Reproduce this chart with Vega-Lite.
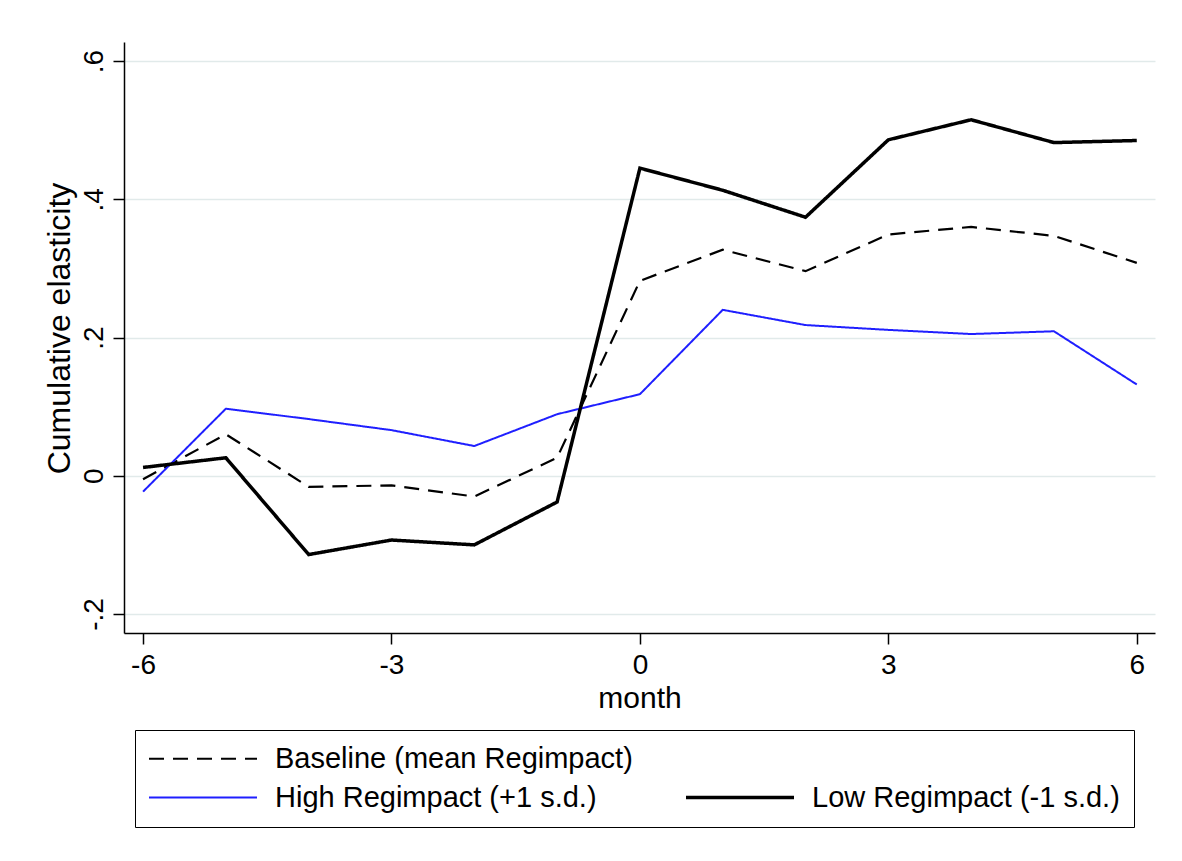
{
  "$schema": "https://vega.github.io/schema/vega-lite/v6.json",
  "width": 1031,
  "height": 591,
  "autosize": {"type": "none"},
  "padding": {"left": 124, "top": 42, "right": 27, "bottom": 228},
  "background": "white",
  "config": {
    "view": {"stroke": null},
    "font": "Liberation Sans",
    "axis": {"labelFont": "Liberation Sans", "titleFont": "Liberation Sans", "labelColor": "#000", "titleColor": "#000", "titleFontWeight": "normal"},
    "legend": {"labelFont": "Liberation Sans"}
  },
  "data": {
    "values": [
      {"month": -6, "series": "Baseline (mean Regimpact)", "value": -0.005},
      {"month": -5, "series": "Baseline (mean Regimpact)", "value": 0.060},
      {"month": -4, "series": "Baseline (mean Regimpact)", "value": -0.016},
      {"month": -3, "series": "Baseline (mean Regimpact)", "value": -0.014},
      {"month": -2, "series": "Baseline (mean Regimpact)", "value": -0.030},
      {"month": -1, "series": "Baseline (mean Regimpact)", "value": 0.026},
      {"month": 0, "series": "Baseline (mean Regimpact)", "value": 0.282},
      {"month": 1, "series": "Baseline (mean Regimpact)", "value": 0.327},
      {"month": 2, "series": "Baseline (mean Regimpact)", "value": 0.296},
      {"month": 3, "series": "Baseline (mean Regimpact)", "value": 0.349},
      {"month": 4, "series": "Baseline (mean Regimpact)", "value": 0.360},
      {"month": 5, "series": "Baseline (mean Regimpact)", "value": 0.347},
      {"month": 6, "series": "Baseline (mean Regimpact)", "value": 0.308},
      {"month": -6, "series": "High Regimpact (+1 s.d.)", "value": -0.023},
      {"month": -5, "series": "High Regimpact (+1 s.d.)", "value": 0.097},
      {"month": -4, "series": "High Regimpact (+1 s.d.)", "value": 0.082},
      {"month": -3, "series": "High Regimpact (+1 s.d.)", "value": 0.066},
      {"month": -2, "series": "High Regimpact (+1 s.d.)", "value": 0.043},
      {"month": -1, "series": "High Regimpact (+1 s.d.)", "value": 0.089},
      {"month": 0, "series": "High Regimpact (+1 s.d.)", "value": 0.118},
      {"month": 1, "series": "High Regimpact (+1 s.d.)", "value": 0.240},
      {"month": 2, "series": "High Regimpact (+1 s.d.)", "value": 0.218},
      {"month": 3, "series": "High Regimpact (+1 s.d.)", "value": 0.211},
      {"month": 4, "series": "High Regimpact (+1 s.d.)", "value": 0.205},
      {"month": 5, "series": "High Regimpact (+1 s.d.)", "value": 0.209},
      {"month": 6, "series": "High Regimpact (+1 s.d.)", "value": 0.132},
      {"month": -6, "series": "Low Regimpact (-1 s.d.)", "value": 0.012},
      {"month": -5, "series": "Low Regimpact (-1 s.d.)", "value": 0.026},
      {"month": -4, "series": "Low Regimpact (-1 s.d.)", "value": -0.114},
      {"month": -3, "series": "Low Regimpact (-1 s.d.)", "value": -0.093},
      {"month": -2, "series": "Low Regimpact (-1 s.d.)", "value": -0.100},
      {"month": -1, "series": "Low Regimpact (-1 s.d.)", "value": -0.038},
      {"month": 0, "series": "Low Regimpact (-1 s.d.)", "value": 0.445},
      {"month": 1, "series": "Low Regimpact (-1 s.d.)", "value": 0.413},
      {"month": 2, "series": "Low Regimpact (-1 s.d.)", "value": 0.374},
      {"month": 3, "series": "Low Regimpact (-1 s.d.)", "value": 0.486},
      {"month": 4, "series": "Low Regimpact (-1 s.d.)", "value": 0.515},
      {"month": 5, "series": "Low Regimpact (-1 s.d.)", "value": 0.482},
      {"month": 6, "series": "Low Regimpact (-1 s.d.)", "value": 0.485}
    ]
  },
  "mark": {"type": "line", "strokeCap": "butt", "strokeJoin": "miter"},
  "encoding": {
    "x": {
      "field": "month", "type": "quantitative",
      "scale": {"domain": [-6.23, 6.22], "nice": false, "zero": false},
      "axis": {
        "values": [-6, -3, 0, 3, 6], "grid": false, "title": "month",
        "labelExpr": "(datum.value < 0 ? '-' : '') + abs(datum.value)",
        "domainColor": "#000", "domainWidth": 1.5, "tickColor": "#000", "tickWidth": 1.5, "tickSize": 11,
        "labelFontSize": 28, "labelPadding": 7, "titleFontSize": 30, "titlePadding": 4, "labelFlush": false
      }
    },
    "y": {
      "field": "value", "type": "quantitative",
      "scale": {"domain": [-0.2275, 0.6275], "nice": false, "zero": false},
      "axis": {
        "values": [-0.2, 0, 0.2, 0.4, 0.6], "title": "Cumulative elasticity",
        "labelExpr": "datum.value === 0 ? '0' : (datum.value < 0 ? '-' : '') + '.' + format(abs(datum.value) * 10, '.0f')",
        "grid": true, "gridColor": "#e1eaea", "gridWidth": 1.5,
        "domainColor": "#000", "domainWidth": 1.5, "tickColor": "#000", "tickWidth": 1.5, "tickSize": 11,
        "labelFontSize": 28, "labelAngle": 270, "labelAlign": "center", "labelBaseline": "alphabetic", "labelPadding": 11,
        "titleFontSize": 32, "titlePadding": 4, "titleY": 286, "titleAlign": "center", "labelFlush": false
      }
    },
    "color": {
      "field": "series", "type": "nominal",
      "scale": {
        "domain": ["Baseline (mean Regimpact)", "High Regimpact (+1 s.d.)", " ", "Low Regimpact (-1 s.d.)"],
        "range": ["#000000", "#1f1fff", "transparent", "#000000"]
      },
      "legend": {
        "title": null, "orient": "none", "legendX": 11, "legendY": 688, "columns": 2,
        "symbolType": "stroke", "symbolSize": 11664, "symbolStrokeWidth": 2,
        "symbolOffset": 39.5,
        "labelFontSize": 29, "labelOffset": 57.5, "labelLimit": 0, "labelColor": "#000",
        "columnPadding": 53, "rowPadding": 9, "clipHeight": 29,
        "padding": 14, "strokeColor": "#000", "fillColor": "white",
        "encode": {
          "symbols": {"update": {"strokeWidth": {"signal": "datum.value === 'Low Regimpact (-1 s.d.)' ? 3.5 : datum.value === 'High Regimpact (+1 s.d.)' ? 2 : 2.2"}}}
        }
      }
    },
    "strokeDash": {
      "field": "series", "type": "nominal",
      "scale": {
        "domain": ["Baseline (mean Regimpact)", "High Regimpact (+1 s.d.)", " ", "Low Regimpact (-1 s.d.)"],
        "range": [[15, 9], [1, 0], [1, 0], [1, 0]]
      },
      "legend": {
        "title": null, "orient": "none", "legendX": 11, "legendY": 688, "columns": 2,
        "symbolType": "stroke", "symbolSize": 11664, "symbolStrokeWidth": 2,
        "symbolOffset": 39.5,
        "labelFontSize": 29, "labelOffset": 57.5, "labelLimit": 0, "labelColor": "#000",
        "columnPadding": 53, "rowPadding": 9, "clipHeight": 29,
        "padding": 14, "strokeColor": "#000", "fillColor": "white",
        "encode": {
          "symbols": {"update": {"strokeWidth": {"signal": "datum.value === 'Low Regimpact (-1 s.d.)' ? 3.5 : datum.value === 'High Regimpact (+1 s.d.)' ? 2 : 2.2"}}}
        }
      }
    },
    "strokeWidth": {
      "condition": [
        {"test": "datum.series === 'Low Regimpact (-1 s.d.)'", "value": 3.5},
        {"test": "datum.series === 'High Regimpact (+1 s.d.)'", "value": 2}
      ],
      "value": 2.2
    }
  }
}
